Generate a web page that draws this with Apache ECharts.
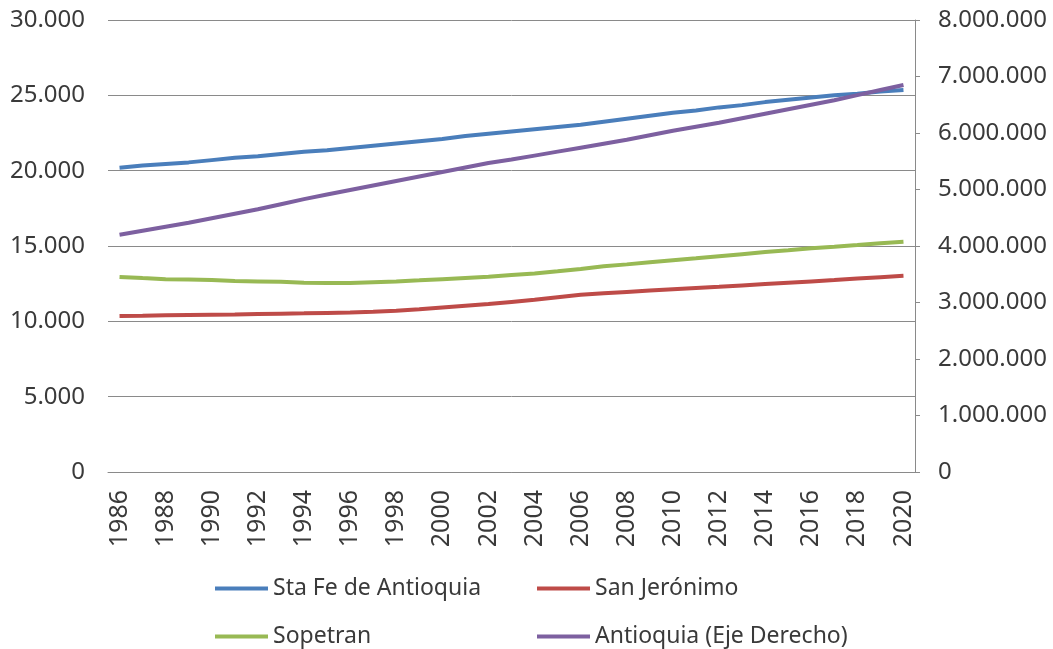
<!DOCTYPE html>
<html>
<head>
<meta charset="utf-8">
<script src="https://cdn.jsdelivr.net/npm/echarts@6/dist/echarts.min.js"></script>
<style>
html, body { margin: 0; padding: 0; background: #fff; }
#main { width: 1053px; height: 649px; }
</style>
</head>
<body>
<div id="main"></div>
<script>
var years = ['1986','1987','1988','1989','1990','1991','1992','1993','1994','1995',
    '1996','1997','1998','1999','2000','2001','2002','2003','2004','2005',
    '2006','2007','2008','2009','2010','2011','2012','2013','2014','2015',
    '2016','2017','2018','2019','2020'];

var staFe = [20200,20350,20450,20550,20700,20850,20950,21100,21250,21350,
    21500,21650,21800,21950,22100,22300,22450,22600,22750,22900,
    23050,23250,23450,23650,23850,24000,24200,24350,24550,24700,
    24850,25000,25100,25250,25350];

var sanJeronimo = [10350,10370,10400,10420,10440,10460,10490,10510,10530,10560,
    10590,10630,10700,10800,10920,11040,11150,11290,11430,11600,
    11760,11860,11950,12040,12130,12210,12290,12380,12470,12560,
    12650,12740,12840,12930,13020];

var sopetran = [12950,12870,12800,12780,12740,12680,12650,12620,12560,12540,
    12550,12600,12650,12720,12800,12880,12960,13080,13180,13320,
    13480,13650,13780,13920,14050,14180,14320,14460,14600,14720,
    14850,14950,15060,15180,15280];

// departamento, eje derecho
var antioquia = [4200000,4270000,4340000,4410000,4490000,4570000,4650000,4740000,4830000,4910000,
    4990000,5070000,5150000,5230000,5310000,5390000,5470000,5530000,5600000,5670000,
    5740000,5810000,5880000,5960000,6040000,6110000,6180000,6260000,6340000,6420000,
    6500000,6580000,6670000,6760000,6850000];

var names = ['Sta Fe de Antioquia', 'San Jerónimo', 'Sopetran', 'Antioquia (Eje Derecho)'];
var colors = ['#4a7ebb', '#be4b48', '#98b954', '#7d60a0'];

function miles(v) {
    return String(v).replace(/\B(?=(\d{3})+(?!\d))/g, '.');
}

var font = 'Noto Sans';
var txt = '#3a3a3a';
var gridColor = '#8a8a8a';

function legendAt(name, left, top) {
    return {
        data: [name],
        left: left,
        top: top,
        icon: 'rect',
        itemWidth: 53,
        itemHeight: 4,
        padding: 0,
        selectedMode: false,
        textStyle: { fontFamily: font, fontSize: 23, color: txt }
    };
}

var myChart = echarts.init(document.getElementById('main'));
var option = {
    color: colors,
    animation: false,
    grid: { left: 108, right: 138, top: 20, bottom: 177 },
    legend: [
        legendAt(names[0], 215, 577),
        legendAt(names[1], 537, 577),
        legendAt(names[2], 215, 625),
        legendAt(names[3], 537, 625)
    ],
    xAxis: {
        type: 'category',
        data: years,
        boundaryGap: true,
        axisLine: { show: true, lineStyle: { color: gridColor, width: 1 } },
        axisTick: { show: false },
        axisLabel: {
            interval: 1,
            rotate: 90,
            margin: 18,
            fontFamily: font,
            fontSize: 25,
            color: txt
        }
    },
    yAxis: [
        {
            type: 'value',
            min: 0,
            max: 30000,
            interval: 5000,
            axisLine: { show: false },
            axisTick: { show: false },
            axisLabel: {
                margin: 23,
                fontFamily: font,
                fontSize: 24,
                color: txt,
                formatter: miles
            },
            splitLine: { lineStyle: { color: gridColor, width: 1 } }
        },
        {
            type: 'value',
            position: 'right',
            min: 0,
            max: 8000000,
            interval: 1000000,
            axisLine: { show: true, lineStyle: { color: gridColor, width: 1 } },
            axisTick: { show: true, length: 5, lineStyle: { color: gridColor } },
            axisLabel: {
                margin: 23,
                fontFamily: font,
                fontSize: 24,
                color: txt,
                formatter: miles
            },
            splitLine: { show: false }
        }
    ],
    series: [
        { name: names[0], type: 'line', data: staFe, showSymbol: false, lineStyle: { width: 4 } },
        { name: names[1], type: 'line', data: sanJeronimo, showSymbol: false, lineStyle: { width: 4 } },
        { name: names[2], type: 'line', data: sopetran, showSymbol: false, lineStyle: { width: 4 } },
        { name: names[3], type: 'line', yAxisIndex: 1, data: antioquia, showSymbol: false, lineStyle: { width: 4 } }
    ]
};
myChart.setOption(option);
</script>
</body>
</html>
